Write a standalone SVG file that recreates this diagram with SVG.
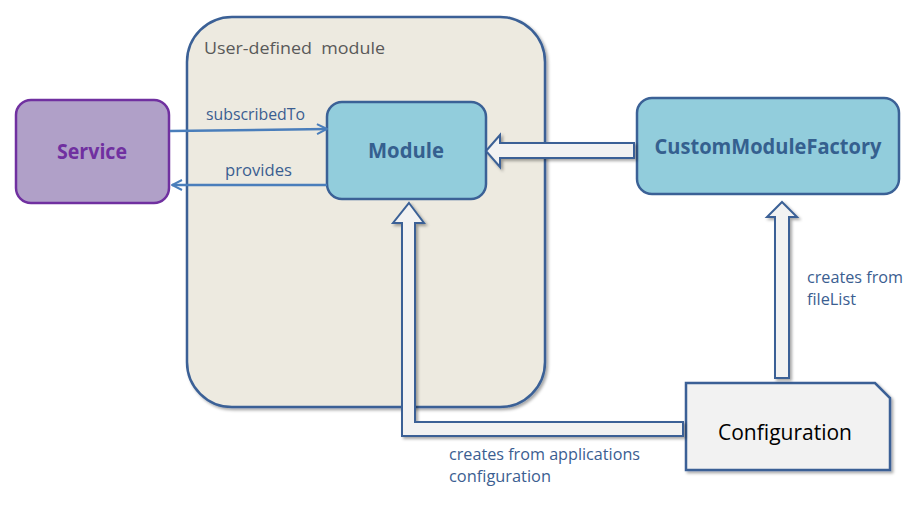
<svg xmlns="http://www.w3.org/2000/svg" width="912" height="518" viewBox="0 0 912 518">
<defs>
<filter id="sh" x="-10%" y="-10%" width="130%" height="130%">
<feDropShadow dx="2" dy="2" stdDeviation="1.5" flood-color="#000" flood-opacity="0.35"/>
</filter>
<marker id="ah" viewBox="0 0 12 12" refX="11" refY="6" markerWidth="12" markerHeight="12" markerUnits="userSpaceOnUse" orient="auto">
<path d="M1,1 L11,6 L1,11" fill="none" stroke="#4A7EBB" stroke-width="2"/>
</marker>
</defs>
<style>
.box{stroke:#3B6196;stroke-width:2.5;}
.lbl{font-family:"Open Sans","Liberation Sans",sans-serif;font-size:16px;fill:#3B5E91;}
.nm{font-family:"Open Sans","Liberation Sans",sans-serif;font-weight:bold;font-size:21px;fill:#35608F;text-anchor:middle;}
.blk{fill:#F2F2F2;stroke:#3B6196;stroke-width:2;filter:url(#sh);}
.ln{stroke:#4A7EBB;stroke-width:2.5;fill:none;marker-end:url(#ah);}
</style>
<rect width="912" height="518" fill="#fff"/>
<g id="user-defined-module">
<rect x="187" y="17" width="358" height="390" rx="45" ry="45" fill="#EDEAE0" class="box" filter="url(#sh)"/>
<text x="204" y="54" font-family="Open Sans, Liberation Sans, sans-serif" font-size="17" fill="#595959" textLength="181" lengthAdjust="spacingAndGlyphs">User-defined&#160; module</text>
</g>
<g id="service">
<rect x="16" y="100" width="153" height="103" rx="15" ry="15" fill="#B0A0C8" stroke="#7030A0" stroke-width="2.5"/>
<text x="92" y="159" class="nm" style="fill:#7030A0" textLength="70" lengthAdjust="spacingAndGlyphs">Service</text>
</g>
<g id="module">
<rect x="327" y="102" width="159" height="97" rx="15" ry="15" fill="#92CDDC" class="box"/>
<text x="406" y="158" class="nm" textLength="76" lengthAdjust="spacingAndGlyphs">Module</text>
</g>
<g id="custom-module-factory">
<rect x="637" y="98" width="262" height="96" rx="15" ry="15" fill="#92CDDC" class="box"/>
<text x="768" y="154" class="nm" textLength="227" lengthAdjust="spacingAndGlyphs">CustomModuleFactory</text>
</g>
<g id="configuration">
<path d="M686,383 L875,383 L890,398 L890,470 L686,470 Z" fill="#F2F2F2" class="box" filter="url(#sh)"/>
<text x="785" y="440" font-family="Open Sans, Liberation Sans, sans-serif" font-size="21" fill="#000" text-anchor="middle" textLength="134" lengthAdjust="spacingAndGlyphs">Configuration</text>
</g>
<g id="connectors">
<line x1="170" y1="131" x2="327" y2="129" class="ln"/>
<text x="206" y="120" class="lbl" textLength="99" lengthAdjust="spacingAndGlyphs">subscribedTo</text>
<line x1="327" y1="185" x2="172" y2="185" class="ln"/>
<text x="225" y="176" class="lbl" textLength="67" lengthAdjust="spacingAndGlyphs">provides</text>
<polygon class="blk" points="486,151 500,135 500,143 634,143 634,158 500,158 500,167"/>
<polygon class="blk" points="782,202 797,217 789,217 789,378 775,378 775,217 767,217"/>
<polygon class="blk" points="409,203 424,223 415,223 415,422 683,422 683,436 402,436 402,223 393,223"/>
<text x="807" y="283" class="lbl" textLength="96" lengthAdjust="spacingAndGlyphs">creates from</text>
<text x="807" y="305" class="lbl" textLength="49" lengthAdjust="spacingAndGlyphs">fileList</text>
<text x="449" y="460" class="lbl" textLength="191" lengthAdjust="spacingAndGlyphs">creates from applications</text>
<text x="449" y="482" class="lbl" textLength="102" lengthAdjust="spacingAndGlyphs">configuration</text>
</g>
</svg>
